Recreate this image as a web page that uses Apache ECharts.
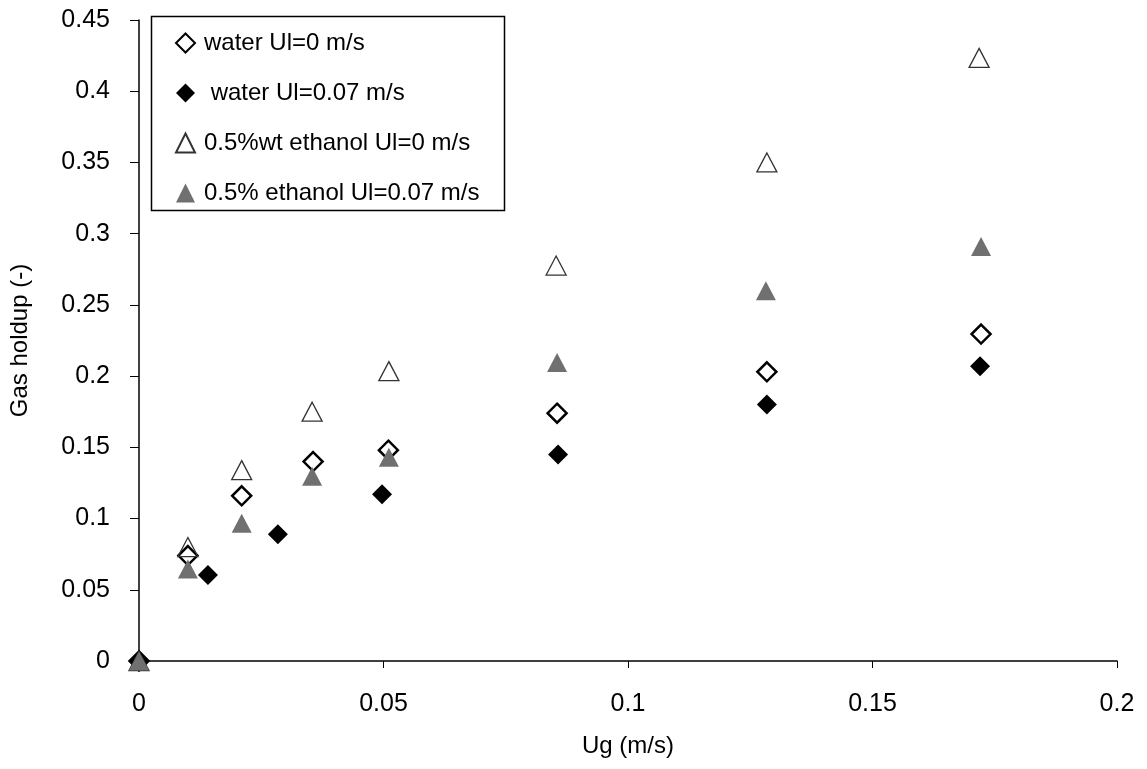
<!DOCTYPE html>
<html>
<head>
<meta charset="utf-8">
<script src="https://cdn.jsdelivr.net/npm/echarts@6/dist/echarts.min.js"></script>
<style>html,body{margin:0;padding:0;background:#fff;}#c{width:1147px;height:769px;}</style>
</head>
<body>
<div id="c"></div>
<script>
// Data
const seriesNames = ['water Ul=0 m/s', ' water Ul=0.07 m/s', '0.5%wt ethanol Ul=0 m/s', '0.5% ethanol Ul=0.07 m/s'];
const xWater0 = [0, 0.010, 0.021, 0.0356, 0.051, 0.0855, 0.1284, 0.1722];
const yWater0 = [0, 0.074, 0.116, 0.140, 0.148, 0.174, 0.203, 0.2295];
const xWater07 = [0, 0.0141, 0.0284, 0.0497, 0.0857, 0.1284, 0.172];
const yWater07 = [0, 0.0603, 0.089, 0.117, 0.145, 0.180, 0.207];
const xEth0 = [0, 0.010, 0.021, 0.0354, 0.0511, 0.0853, 0.1284, 0.1718];
const yEth0 = [0, 0.080, 0.134, 0.175, 0.2035, 0.2776, 0.350, 0.4234];
const xEth07 = [0, 0.010, 0.021, 0.0354, 0.0511, 0.0855, 0.1282, 0.1722];
const yEth07 = [0, 0.0645, 0.0967, 0.1297, 0.143, 0.2096, 0.260, 0.291];

const pairs = (xs, ys) => xs.map((x, i) => [x, ys[i]]);
const FONT = 'Liberation Sans, Arial, sans-serif';

const chart = echarts.init(document.getElementById('c'), null, {renderer: 'canvas'});
chart.setOption({
  animation: false,
  backgroundColor: '#ffffff',
  textStyle: {fontFamily: FONT, color: '#000'},
  grid: {left: 139, right: 30, top: 20, bottom: 108, containLabel: false},
  xAxis: {
    type: 'value', min: 0, max: 0.2, interval: 0.05,
    name: 'Ug (m/s)', nameLocation: 'middle', nameGap: 73,
    nameTextStyle: {fontSize: 24, fontFamily: FONT, color: '#000'},
    axisLine: {show: true, onZero: false, lineStyle: {color: '#000', width: 1.5}},
    axisTick: {show: true, inside: false, length: 7, lineStyle: {color: '#000', width: 1}},
    axisLabel: {fontSize: 25, fontFamily: FONT, color: '#000', margin: 31},
    splitLine: {show: false}
  },
  yAxis: {
    type: 'value', min: 0, max: 0.45, interval: 0.05,
    name: 'Gas holdup (-)', nameLocation: 'middle', nameGap: 107, nameRotate: 90,
    nameTextStyle: {fontSize: 24, fontFamily: FONT, color: '#000'},
    axisLine: {show: true, onZero: false, lineStyle: {color: '#000', width: 1.5}},
    axisTick: {show: true, inside: false, length: 9, lineStyle: {color: '#000', width: 1}},
    axisLabel: {fontSize: 25, fontFamily: FONT, color: '#000', margin: 29},
    splitLine: {show: false}
  },
  legend: {
    orient: 'vertical', left: 175, top: 31, padding: 0, itemGap: 26,
    itemWidth: 19, itemHeight: 19,
    textStyle: {fontSize: 24, fontFamily: FONT, color: '#000', padding: [0, 0, 0, 4]},
    data: seriesNames
  },
  graphic: [{
    type: 'rect', left: 149, top: 14, z: 100,
    shape: {width: 353, height: 194},
    style: {fill: 'none', stroke: '#000', lineWidth: 1.5}
  }],
  series: [
    {name: seriesNames[0], type: 'scatter', symbol: 'diamond', symbolSize: 19,
     itemStyle: {color: 'rgba(255,255,255,0)', borderColor: '#000', borderWidth: 2.5, opacity: 1},
     data: pairs(xWater0, yWater0)},
    {name: seriesNames[1], type: 'scatter', symbol: 'diamond', symbolSize: 20,
     itemStyle: {color: '#000', borderColor: '#000', borderWidth: 0, opacity: 1},
     data: pairs(xWater07, yWater07)},
    {name: seriesNames[2], type: 'scatter', symbol: 'triangle', symbolSize: [20, 19],
     itemStyle: {color: 'rgba(255,255,255,0)', borderColor: '#333', borderWidth: 1.3, opacity: 1},
     data: pairs(xEth0, yEth0)},
    {name: seriesNames[3], type: 'scatter', symbol: 'triangle', symbolSize: [20, 19],
     itemStyle: {color: '#707070', borderColor: '#707070', borderWidth: 0, opacity: 1},
     data: pairs(xEth07, yEth07)}
  ]
});
</script>
</body>
</html>
